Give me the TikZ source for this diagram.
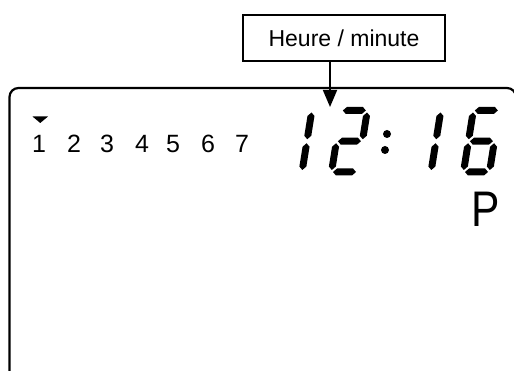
\documentclass[tikz,border=0pt]{standalone}
\usepackage{fontspec}
\usepackage{graphicx}
\setmainfont{Liberation Sans}
\usetikzlibrary{arrows.meta}
\newcommand\lcdH[1]{\fill (1.5,#1) -- (5,#1+3.5) -- (21,#1+3.5) -- (24.5,#1) -- (21,#1-3.5) -- (5,#1-3.5) -- cycle;}
\newcommand\lcdV[3]{\fill (#1,#2) -- (#1+3.5,#2+3.5) -- (#1+3.5,#3-3.5) -- (#1,#3) -- (#1-3.5,#3-3.5) -- (#1-3.5,#2+3.5) -- cycle;}
\begin{document}
\begin{tikzpicture}[x=1pt,y=1pt,
  frameline/.style={line width=2.2pt},
  labelbox/.style={draw, line width=1.6pt, minimum width=202pt, minimum height=46pt, inner sep=0pt, font=\fontsize{23}{23}\selectfont},
  pointer/.style={line width=1.8pt, -{Triangle[width=14pt,length=17pt]}},
  daynum/.style={font=\fontsize{25}{25}\selectfont, anchor=base, inner sep=0pt},
  lcd/.style={xslant=0.16}
]
\useasboundingbox (0,0) rectangle (514,371);
% display frame
\draw[frameline, rounded corners=9pt] (9.5,-10) -- (9.5,283) -- (516,283) -- (516,-10);
% label box and pointer
\node[labelbox] (box) at (344,333) {Heure / minute};
\coordinate (tip) at (330,264);
\draw[pointer] (box.south -| tip) -- (tip);
% day numbers
\fill (32.5,254.5) -- (48,254.5) -- (40.25,248) -- cycle;
\node[daynum] (d1) at (39,218) {1};
\node[daynum] (d2) at (74,218) {2};
\node[daynum] (d3) at (107,218) {3};
\node[daynum] (d4) at (142,218) {4};
\node[daynum] (d5) at (173,218) {5};
\node[daynum] (d6) at (208,218) {6};
\node[daynum] (d7) at (242,218) {7};
% digit 1
\begin{scope}[shift={(276,199)}, lcd]
\lcdV{26}{32.75}{59.5}
\lcdV{26}{2}{28.75}
\end{scope}
% digit 2
\begin{scope}[shift={(331.5,199)}, lcd]
\lcdH{61.5}
\lcdV{26}{32.75}{59.5}
\lcdH{30.75}
\lcdV{0}{2}{28.75}
\lcdH{0}
\end{scope}
% colon
\fill (387,237) circle (4pt);
\fill (385,221) circle (4pt);
% digit 1
\begin{scope}[shift={(405,199)}, lcd]
\lcdV{26}{32.75}{59.5}
\lcdV{26}{2}{28.75}
\end{scope}
% digit 6
\begin{scope}[shift={(463.5,199)}, lcd]
\lcdH{61.5}
\lcdV{0}{32.75}{59.5}
\lcdH{30.75}
\lcdV{0}{2}{28.75}
\lcdV{26}{2}{28.75}
\lcdH{0}
\end{scope}
% P indicator
\node[font=\fontsize{50}{50}\selectfont, anchor=base west, inner sep=0pt] (pm) at (471.6,144) {\scalebox{0.85}[1]{P}};
\end{tikzpicture}
\end{document}
